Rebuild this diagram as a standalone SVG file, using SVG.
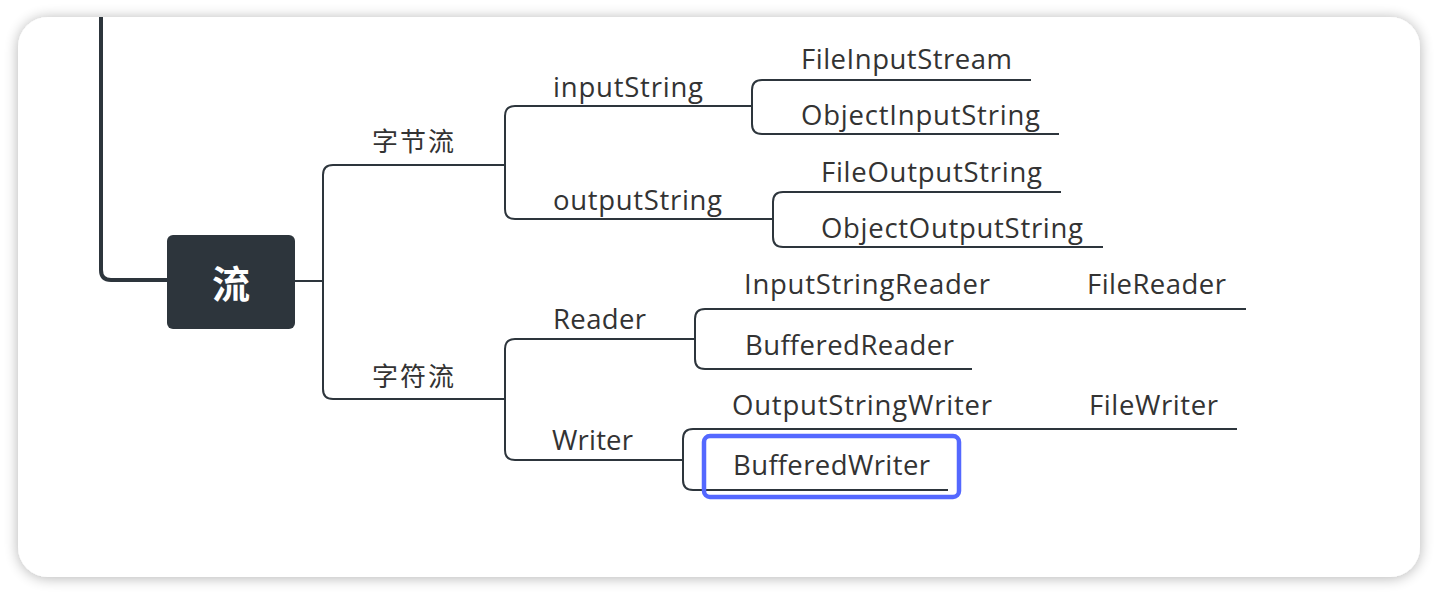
<svg xmlns="http://www.w3.org/2000/svg" width="1438" height="594" viewBox="0 0 1438 594">
<defs>
<filter id="sh" x="-5%" y="-10%" width="110%" height="120%">
<feGaussianBlur in="SourceAlpha" stdDeviation="7"/>
<feOffset dx="0" dy="1"/>
<feComponentTransfer><feFuncA type="linear" slope="0.3"/></feComponentTransfer>
<feMerge><feMergeNode/><feMergeNode in="SourceGraphic"/></feMerge>
</filter>
<style>
.t{font-family:"Open Sans","Noto Sans",sans-serif;font-size:27.5px;fill:#333;}
.c{font-family:"Noto Sans CJK SC",sans-serif;font-size:26px;fill:#333;}
.ln{fill:none;stroke:#2d353c;stroke-width:2;}
.thick{fill:none;stroke:#2d353c;stroke-width:4;}
</style>
</defs>
<rect x="0" y="0" width="1438" height="594" fill="#ffffff"/>
<rect x="18" y="17" width="1402" height="560" rx="30" fill="#ffffff" filter="url(#sh)"/>
<g id="connectors">
<path class="thick" d="M101 17 V270 Q101 280 111 280 H167"/>
<path class="ln" d="M295 281 H323"/>
<path class="ln" d="M505 165 H333 Q323 165 323 175 V389 Q323 399 333 399 H505"/>
<path class="ln" d="M505 165 V116 Q505 106 515 106 H752"/>
<path class="ln" d="M505 165 V209 Q505 219 515 219 H773"/>
<path class="ln" d="M752 106 V90 Q752 80 762 80 H1031"/>
<path class="ln" d="M752 106 V124 Q752 134 762 134 H1059"/>
<path class="ln" d="M773 219 V202 Q773 192 783 192 H1061"/>
<path class="ln" d="M773 219 V237 Q773 247 783 247 H1103"/>
<path class="ln" d="M505 399 V349 Q505 339 515 339 H695"/>
<path class="ln" d="M505 399 V450 Q505 460 515 460 H683"/>
<path class="ln" d="M695 339 V319 Q695 309 705 309 H1246"/>
<path class="ln" d="M695 339 V359 Q695 369 705 369 H972"/>
<path class="ln" d="M683 460 V439 Q683 429 693 429 H1237"/>
<path class="ln" d="M683 460 V480 Q683 490 693 490 H948"/>
</g>
<g id="root">
<rect x="167" y="235" width="128" height="94" rx="6" fill="#2d353c"/>
<text x="231" y="298" text-anchor="middle" font-family="Noto Sans CJK SC, sans-serif" font-size="38" font-weight="bold" fill="#ffffff">流</text>
</g>
<g id="n-byte"><text class="c" x="372" y="151" textLength="82">字节流</text></g>
<g id="n-char"><text class="c" x="372" y="386" textLength="82">字符流</text></g>
<g id="n-input"><text class="t" x="553" y="97" textLength="150">inputString</text></g>
<g id="n-output"><text class="t" x="553" y="210" textLength="169">outputString</text></g>
<g id="n-fis"><text class="t" x="801" y="69" textLength="211">FileInputStream</text></g>
<g id="n-ois"><text class="t" x="801" y="125" textLength="239">ObjectInputString</text></g>
<g id="n-fos"><text class="t" x="821" y="182" textLength="221">FileOutputString</text></g>
<g id="n-oos"><text class="t" x="821" y="238" textLength="262">ObjectOutputString</text></g>
<g id="n-reader"><text class="t" x="553" y="329" textLength="93">Reader</text></g>
<g id="n-writer"><text class="t" x="552" y="450" textLength="81">Writer</text></g>
<g id="n-isr"><text class="t" x="744" y="294" textLength="246">InputStringReader</text></g>
<g id="n-fr"><text class="t" x="1087" y="294" textLength="139">FileReader</text></g>
<g id="n-br"><text class="t" x="745" y="355" textLength="209">BufferedReader</text></g>
<g id="n-osw"><text class="t" x="732" y="415" textLength="260">OutputStringWriter</text></g>
<g id="n-fw"><text class="t" x="1089" y="415" textLength="129">FileWriter</text></g>
<g id="n-bw">
<text class="t" x="733" y="475" textLength="197">BufferedWriter</text>
<rect x="704" y="436" width="255" height="61" rx="6" fill="none" stroke="#5468ff" stroke-width="4.5"/>
</g>
</svg>
